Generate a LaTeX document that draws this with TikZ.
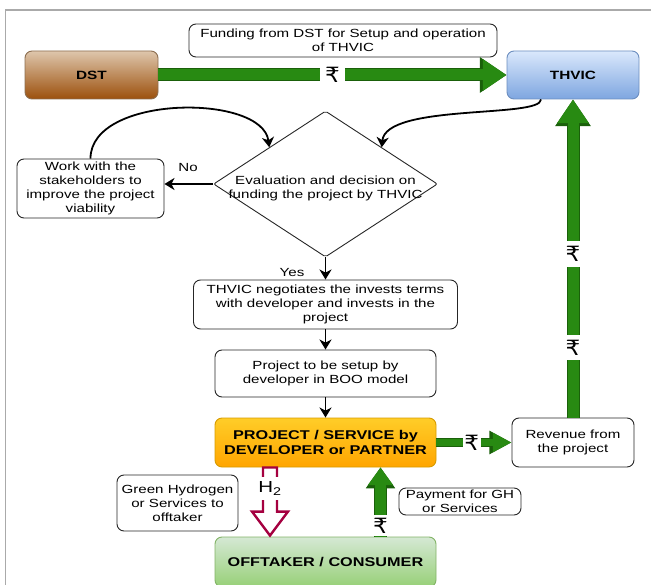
\documentclass[tikz,border=0pt]{standalone}
\usepackage{fontspec}
\setmainfont{Liberation Sans}[FakeStretch=1.28]
\newfontfamily\rupeefont{DejaVu Sans}[FakeStretch=1.1]
\usepackage{xcolor}
\usetikzlibrary{arrows.meta,shapes.geometric,calc}

\definecolor{cashgreen}{RGB}{40,138,18}
\definecolor{cashedge}{RGB}{26,96,10}
\definecolor{hydrored}{RGB}{165,0,64}
\definecolor{framegray}{RGB}{170,170,170}
\definecolor{dsttop}{RGB}{222,198,172}
\definecolor{dstbottom}{RGB}{156,80,12}
\definecolor{dstedge}{RGB}{140,110,80}
\definecolor{thvictop}{RGB}{218,232,252}
\definecolor{thvicbottom}{RGB}{126,166,224}
\definecolor{thvicedge}{RGB}{108,142,191}
\definecolor{projtop}{RGB}{255,205,40}
\definecolor{projbottom}{RGB}{255,165,0}
\definecolor{projedge}{RGB}{215,155,0}
\definecolor{offtop}{RGB}{213,232,212}
\definecolor{offbottom}{RGB}{151,208,119}
\definecolor{offedge}{RGB}{130,179,102}
\newcommand{\rupee}{{\rupeefont\fontsize{21}{21}\selectfont ₹}}

\tikzset{
    txtbox/.style={draw=black!85, rounded corners=7pt, fill=white, align=center, line width=0.9pt, inner sep=1pt},
    bigbox/.style={rounded corners=7pt, align=center, line width=0.9pt, font=\bfseries\fontsize{12.7}{15}\selectfont},
    flow/.style={line width=1.8pt, -{Stealth[length=10pt,width=12pt,inset=3pt]}},
    cash/.style={cashgreen, line width=#1, preaction={draw=cashedge, line width=#1+2pt}},
    rupeemark/.style={fill=white, text=black, inner sep=#1},
}

\begin{document}
\begin{tikzpicture}[x=1pt, y=-1pt, font=\fontsize{11.8}{14}\selectfont]
        \pgfmathsetmacro{\midx}{325.5}
        \clip (0,0) rectangle (651,585);
        \draw[framegray, line width=1.5pt] (5.5,600) -- (5.5,10) -- (660,10);
        \node[txtbox, minimum width=308pt, minimum height=33pt] (funding) at (343,40.5) {Funding from DST for Setup and operation\\of THVIC};
        \node[bigbox, draw=dstedge, top color=dsttop, bottom color=dstbottom, minimum width=133pt, minimum height=48pt, font=\bfseries\fontsize{12}{14}\selectfont] (dst) at (91.5,75) {DST};
        \node[bigbox, draw=thvicedge, top color=thvictop, bottom color=thvicbottom, minimum width=132pt, minimum height=48pt, font=\bfseries\fontsize{12}{14}\selectfont] (thvic) at (573,75) {THVIC};
        \node[draw=black!85, diamond, line width=0.9pt, minimum width=224pt, minimum height=146pt, inner sep=0pt, rounded corners=2pt] (decision) at (\midx,184) {};
        \node[align=center] (decisiontext) at (\midx,188) {Evaluation and decision on\\funding the project by THVIC};
        \node[txtbox, minimum width=147pt, minimum height=59pt] (work) at (90.5,188.5) {Work with the\\stakeholders to\\improve the project\\viability};
        \node (no) at (188,168) {No};
        \node (yes) at (292,273) {Yes};
        \node[txtbox, minimum width=264pt, minimum height=49pt] (negotiate) at (\midx,304.5) {THVIC negotiates the invests terms\\with developer and invests in the\\project};
        \node[txtbox, minimum width=221pt, minimum height=47pt] (setup) at (\midx,373.5) {Project to be setup by\\developer in BOO model};
        \node[bigbox, draw=projedge, top color=projtop, bottom color=projbottom, minimum width=221pt, minimum height=49pt] (project) at (\midx,442.5) {PROJECT / SERVICE by\\DEVELOPER or PARTNER};
        \node[txtbox, minimum width=122pt, minimum height=49pt] (revenue) at (573,442.5) {Revenue from\\the project};
        \node[txtbox, minimum width=121pt, minimum height=56pt] (hydrogen) at (177.5,503) {Green Hydrogen\\or Services to\\offtaker};
        \node[txtbox, minimum width=122pt, minimum height=27pt] (payment) at (460,501.5) {Payment for GH\\or Services};
        \node[bigbox, draw=offedge, top color=offtop, bottom color=offbottom, minimum width=221pt, minimum height=50pt] (offtaker) at (\midx,562) {OFFTAKER / CONSUMER};

        % black flow
        \draw[flow] (work.north) .. controls +(0,-64) and +(-7,-54) .. (decision.north west);
        \draw[flow] ([xshift=-32pt]thvic.south) .. controls +(0,19) and +(4,-44) .. (decision.north east);
        \draw[flow] (decision.west) -- (decision.west -| work.east);
        \foreach \a/\b in {decision/negotiate, negotiate/setup, setup/project}{
                \draw[flow] (\a.south) -- (\b.north);
            }

        % money
        \draw[cash=11pt, -{Triangle[length=6pt 1.6, width=8pt 2]}] (dst.east) -- node[rupeemark=5pt] (rupeetop) {\rupee} (thvic.west);
        \draw[cash=11pt, -{Triangle[length=6pt 1.6, width=8pt 2]}] (revenue.north) -- node[pos=0.22, rupeemark=5pt] (rupeelow) {\rupee} node[pos=0.514, rupeemark=5pt] (rupeehigh) {\rupee} (thvic.south);
        \draw[cash=7pt, -{Triangle[length=6pt 1.8, width=4pt 2]}] (project.east) -- node[pos=0.47, rupeemark=1.5pt] (rupeerev) {\rupee} (revenue.west);
        \draw[cash=11pt, -{Triangle[length=0pt 1.6, width=2pt 2]}] ([xshift=55pt]offtaker.north) -- node[pos=0.16, rupeemark=2.5pt] (rupeepay) {\rupee} ([xshift=55pt]project.south);

        % hydrogen
        \coordinate (h2top) at ([xshift=-55.5pt]project.south);
        \coordinate (h2tip) at ([xshift=-55.5pt,yshift=1pt]offtaker.north);
        \draw[hydrored, line width=2.4pt, fill=white] ($(h2top)+(-7,0)$) -- ($(h2tip)+(-7,-24)$) -- ($(h2tip)+(-18,-24)$) -- (h2tip) -- ($(h2tip)+(18,-24)$) -- ($(h2tip)+(7,-24)$) -- ($(h2top)+(7,0)$) -- cycle;
        \node[fill=white, inner xsep=1pt, inner ysep=5pt, font=\fontsize{16}{16}\selectfont] (htwo) at ($(h2top)!0.31!(h2tip)$) {H\textsubscript{2}};
    \end{tikzpicture}
\end{document}
